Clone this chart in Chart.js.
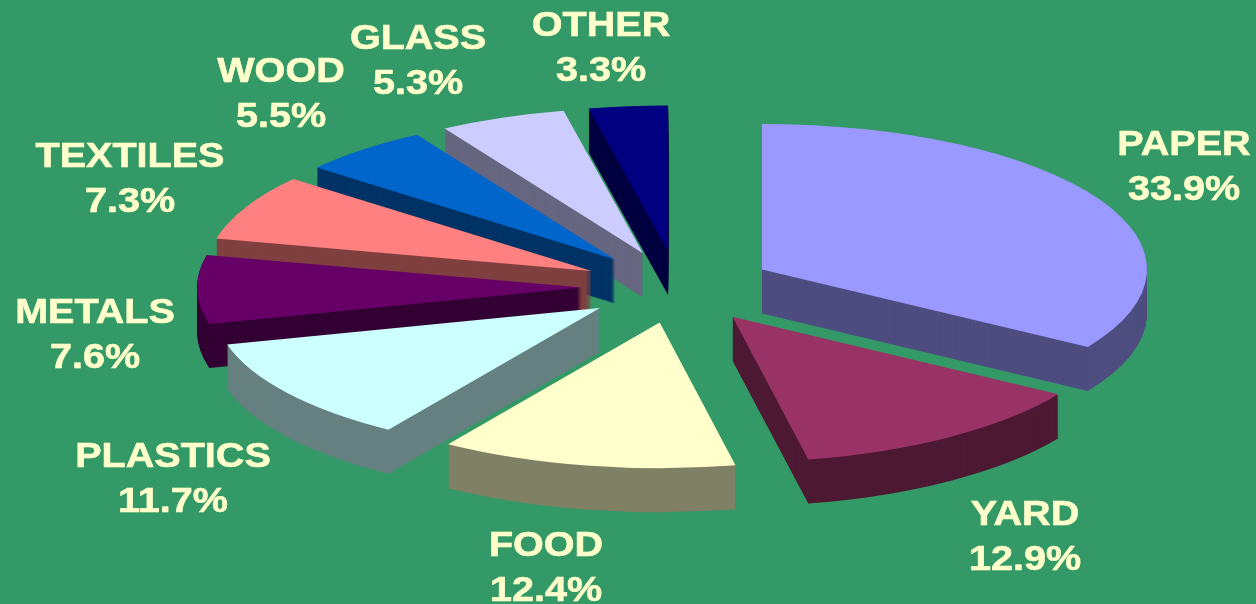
<!DOCTYPE html>
<html>
<head>
<meta charset="utf-8">
<title>Waste by material</title>
<script src="https://cdn.jsdelivr.net/npm/chart.js@4/dist/chart.umd.min.js"></script>
<style>
    html, body { margin: 0; padding: 0; background: #339966; }
    canvas { display: block; }
</style>
</head>
<body>
<canvas id="wasteChart" width="1256" height="604"></canvas>
<script>
const categories = ['PAPER', 'YARD', 'FOOD', 'PLASTICS', 'METALS', 'TEXTILES', 'WOOD', 'GLASS', 'OTHER'];
const shares = [33.9, 12.9, 12.4, 11.7, 7.6, 7.3, 5.5, 5.3, 3.3];
const topColors = ['#9999ff', '#993366', '#ffffcc', '#ccffff', '#660066', '#ff8080', '#0066cc', '#ccccff', '#000080'];
const wallColors = ['#4d4d80', '#4d1933', '#808066', '#668080', '#330033', '#804040', '#003366', '#666680', '#000040'];

// centre of each label's first line, same order as categories
const labelX = [1184, 1025, 546, 173, 95, 130, 281, 418, 601];
const labelY = [145, 515, 546, 457, 313, 157, 72, 39, 26];

const TILT = 0.378;      // vertical squash of the pie
const DEPTH = 44;        // wall height in px
const EXPLODE = 96;      // how far slices pull away from the centre
const LINE_GAP = 45.5;
const TEXT_STRETCH = 1.13;

function drawSlice(ctx, arc, color, drop) {
    const mid = (arc.startAngle + arc.endAngle) / 2;
    const saved = arc.options;
    arc.options = Object.assign(Object.create(saved), {backgroundColor: color, borderColor: color});
    ctx.save();
    ctx.translate(arc.x + Math.cos(mid) * EXPLODE, arc.y + Math.sin(mid) * EXPLODE * TILT + drop);
    ctx.scale(1, TILT);
    ctx.translate(-arc.x, -arc.y);
    arc.draw(ctx);
    ctx.restore();
    arc.options = saved;
}

// replaces the flat pie with a tilted one, painted back to front
const slabPlugin = {
    id: 'slab',
    beforeDatasetDraw(chart, args) {
        const ctx = chart.ctx;
        const order = args.meta.data.map((arc, i) => i).sort((a, b) => {
            const arcA = args.meta.data[a];
            const arcB = args.meta.data[b];
            return Math.sin((arcA.startAngle + arcA.endAngle) / 2) - Math.sin((arcB.startAngle + arcB.endAngle) / 2);
        });
        order.forEach(i => {
            const arc = args.meta.data[i];
            for (let d = DEPTH; d > 0; d--) {
                drawSlice(ctx, arc, wallColors[i], d);
            }
            drawSlice(ctx, arc, topColors[i], 0);
        });
        return false;
    },
    afterDatasetsDraw(chart) {
        const ctx = chart.ctx;
        ctx.save();
        ctx.fillStyle = '#ffffcc';
        ctx.strokeStyle = '#ffffcc';
        ctx.lineWidth = 0.6;
        ctx.font = 'bold 35px "Liberation Sans", Arial, sans-serif';
        ctx.textAlign = 'center';
        ctx.textBaseline = 'middle';
        categories.forEach((name, i) => {
            const percent = shares[i].toFixed(1) + '%';
            ctx.save();
            ctx.translate(labelX[i], labelY[i]);
            ctx.scale(TEXT_STRETCH, 1);
            ctx.fillText(name, 0, 0);
            ctx.strokeText(name, 0, 0);
            ctx.fillText(percent, 0, LINE_GAP);
            ctx.strokeText(percent, 0, LINE_GAP);
            ctx.restore();
        });
        ctx.restore();
    }
};

new Chart(document.getElementById('wasteChart').getContext('2d'), {
    type: 'pie',
    data: {
        labels: categories,
        datasets: [{
            data: shares,
            backgroundColor: topColors,
            borderWidth: 0,
            radius: 385,
            clip: false
        }]
    },
    options: {
        responsive: false,
        animation: false,
        devicePixelRatio: 1,
        layout: {padding: {left: 100, bottom: 30}},
        plugins: {
            legend: {display: false},
            tooltip: {enabled: false}
        }
    },
    plugins: [slabPlugin]
});
</script>
</body>
</html>
